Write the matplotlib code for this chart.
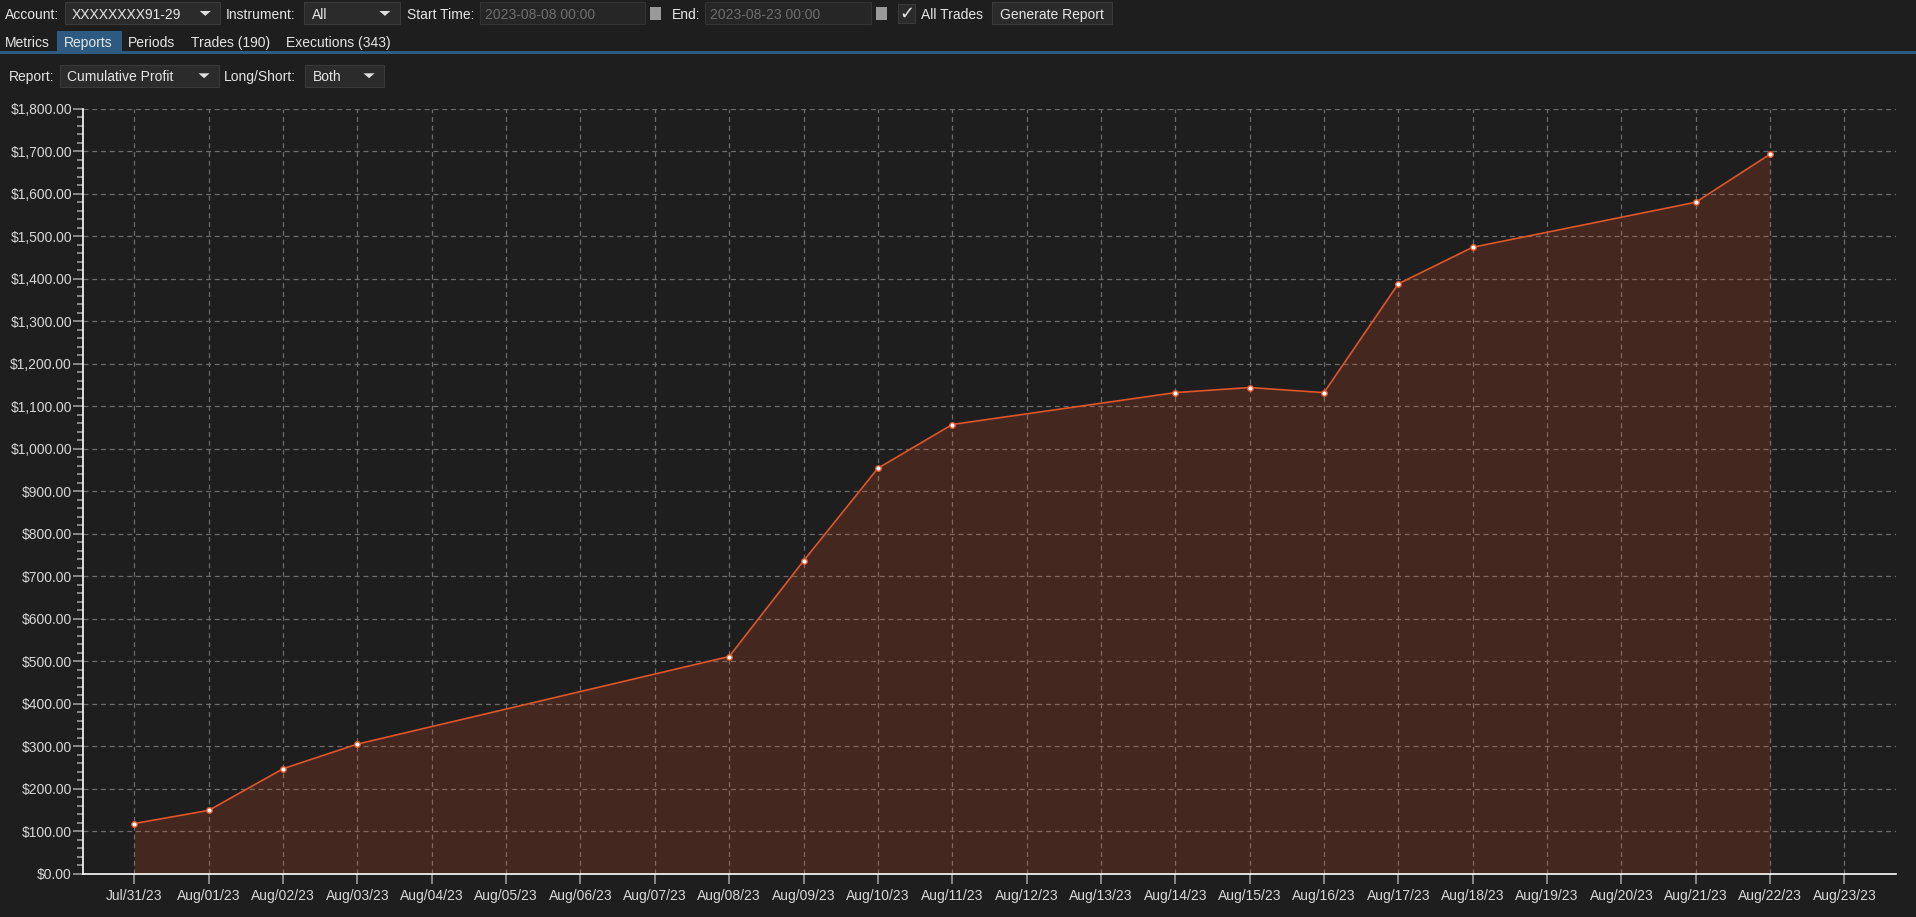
import datetime as dt
import matplotlib
matplotlib.use("Agg")
import matplotlib.pyplot as plt
import matplotlib.dates as mdates
from matplotlib.patches import Rectangle, Polygon
from matplotlib.ticker import MultipleLocator, FuncFormatter

# cumulative profit per trading day
days = ["2023-07-31", "2023-08-01", "2023-08-02", "2023-08-03", "2023-08-08",
        "2023-08-09", "2023-08-10", "2023-08-11", "2023-08-14", "2023-08-15",
        "2023-08-16", "2023-08-17", "2023-08-18", "2023-08-21", "2023-08-22"]
profit = [118, 149, 247, 305, 511, 736, 954, 1057, 1132, 1144,
          1132, 1388, 1474, 1580, 1693]

tabs = ["Metrics", "Reports", "Periods", "Trades (190)", "Executions (343)"]

dates = [dt.datetime.strptime(d, "%Y-%m-%d") for d in days]

W, H = 1916, 917
S = W / 1568.0  # reference was measured on a 1568 px wide view
BG = "#1e1e1e"
TXT = "#e6e6e6"
FONT = ["Liberation Sans", "DejaVu Sans"]
FS = 10

fig = plt.figure(figsize=(W / 100, H / 100), dpi=100, facecolor=BG)


def fx(x):
    return x * S / W


def fy(y):
    return 1 - y * S / H


def box(x0, y0, x1, y1, fc, ec="none", lw=0.8):
    fig.patches.append(Rectangle((fx(x0), fy(y1)), fx(x1) - fx(x0), fy(y0) - fy(y1),
                                 transform=fig.transFigure, fc=fc, ec=ec, lw=lw))


def label(x, y, s, color=TXT, ha="left", size=FS):
    fig.text(fx(x), fy(y + 1), s, color=color, ha=ha, va="center", fontsize=size, family=FONT)


def arrow(x, y):
    w, h = 4.5, 4
    pts = [(fx(x - w), fy(y - h / 2)), (fx(x + w), fy(y - h / 2)), (fx(x), fy(y + h / 2))]
    fig.patches.append(Polygon(pts, closed=True, transform=fig.transFigure, fc="#e0e0e0", ec="none"))


def combo(x0, x1, y, text):
    box(x0, y - 9, x1, y + 9, "#2b2b2b", "#3a3a3a")
    label(x0 + 6, y, text)
    arrow(x1 - 12, y)


# toolbar row 1
r1 = 11
label(4, r1, "Account:")
combo(53, 180, r1, "XXXXXXXX91-29")
label(185, r1, "Instrument:")
combo(249, 327, r1, "All")
label(333, r1, "Start Time:")
box(393, r1 - 9, 528, r1 + 9, "#262626", "#333333")
label(397, r1, "2023-08-08 00:00", color="#6e6e6e")
box(532, r1 - 5, 541, r1 + 5, "#9a9a9a")
label(550, r1, "End:")
box(577, r1 - 9, 713, r1 + 9, "#262626", "#333333")
label(581, r1, "2023-08-23 00:00", color="#6e6e6e")
box(717, r1 - 5, 726, r1 + 5, "#9a9a9a")
box(735, r1 - 8, 749, r1 + 8, "#2b2b2b", "#3a3a3a")
label(742, r1, "\u2713", ha="center", size=13)
label(754, r1, "All Trades")
box(812, r1 - 9, 910, r1 + 9, "#2b2b2b", "#3a3a3a")
label(861, r1, "Generate Report", ha="center")

# tab row
r2 = 34
tab_x = [4, 52, 105, 156, 234]
box(47, 25, 100, 43, "#2d5a80")
for x, t in zip(tab_x, tabs):
    label(x, r2, t)
box(0, 42, 1568, 44, "#2d5a80")

# report row
r3 = 62
label(7, r3, "Report:")
combo(49, 179, r3, "Cumulative Profit")
label(183, r3, "Long/Short:")
combo(250, 314, r3, "Both")

# chart
ax = fig.add_axes([fx(68), fy(715), fx(1552) - fx(68), fy(89) - fy(715)])
ax.set_facecolor(BG)
ax.fill_between(dates, profit, 0, color="#e0552a", alpha=0.2, lw=0, zorder=2)
ax.plot(dates, profit, color="#e0552a", lw=1.2, zorder=3)
ax.plot(dates, profit, ls="none", marker="o", ms=4, mfc="white", mec="#e0552a", mew=1.0, zorder=4)

x0 = dt.datetime(2023, 7, 31)
ax.set_xlim(x0 - dt.timedelta(days=0.69), x0 + dt.timedelta(days=23.7))
ax.set_ylim(0, 1800)
ax.xaxis.set_major_locator(mdates.DayLocator())
ax.xaxis.set_major_formatter(mdates.DateFormatter("%b/%d/%y"))
ax.yaxis.set_major_locator(MultipleLocator(100))
ax.yaxis.set_minor_locator(MultipleLocator(20))
ax.yaxis.set_major_formatter(FuncFormatter(lambda v, p: "${:,.2f}".format(v)))

ax.grid(True, which="major", color="#6c6c6c", ls=(0, (4, 3)), lw=0.9, zorder=1)
for s in ["top", "right"]:
    ax.spines[s].set_visible(False)
for s in ["left", "bottom"]:
    ax.spines[s].set_color("white")
    ax.spines[s].set_linewidth(1.2)
ax.tick_params(axis="x", colors="#9a9a9a", labelcolor="#d8d8d8", length=7, width=1.2, pad=4)
ax.tick_params(axis="y", which="major", colors="#9a9a9a", labelcolor="#d8d8d8", length=7, width=1.2, pad=1)
ax.tick_params(axis="y", which="minor", colors="#9a9a9a", length=4, width=1.2)
for t in ax.get_xticklabels() + ax.get_yticklabels():
    t.set_fontsize(FS)
    t.set_family(FONT)

fig.savefig("out.png", dpi=100, facecolor=BG)
